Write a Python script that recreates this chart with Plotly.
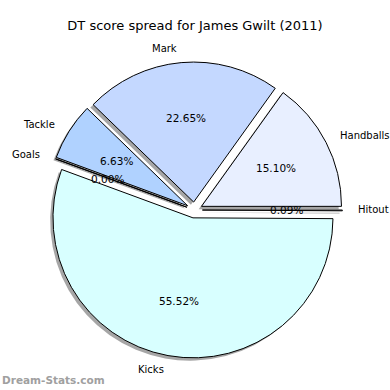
import numpy as np
import plotly.graph_objects as go

labels = ["Hitout", "Handballs", "Mark", "Tackle", "Goals", "Kicks"]
values = [0.09, 15.10, 22.65, 6.63, 0.00, 55.52]
colors = ["#d0d8e8", "#e8efff", "#c4d8ff", "#b0d2ff", "#c8d0e0", "#d8ffff"]
title = "DT score spread for James Gwilt (2011)"
watermark = "Dream-Stats.com"

W = H = 390
R = 140.0          # pie radius in px
PULL = 0.057
CX, CY = 194.4, 210.0  # unexploded centre in px (screen coords)
SH = 2.8           # shadow offset px

half = R * (1 + PULL)

def dom(cx, cy):
    return dict(x=[(cx - half) / W, (cx + half) / W],
                y=[1 - (cy + half) / H, 1 - (cy - half) / H])

fig = go.Figure()
common = dict(labels=labels, values=values, sort=False, direction="counterclockwise",
              rotation=90, pull=[PULL] * len(values), textinfo="none",
              hoverinfo="skip", showlegend=False)
fig.add_trace(go.Pie(**common, domain=dom(CX - SH, CY + SH),
                     marker=dict(colors=["rgba(77,77,77,0.5)"] * len(values),
                                 line=dict(width=0))))
fig.add_trace(go.Pie(**common, domain=dom(CX, CY),
                     marker=dict(colors=colors, line=dict(color="black", width=1))))

tot = float(np.sum(values))
start = 0.0
ann = []
for lab, v in zip(labels, values):
    frac = v / tot * 360.0
    mid = np.deg2rad(start + frac / 2)
    start += frac
    ex = CX + PULL * R * np.cos(mid)
    ey = CY - PULL * R * np.sin(mid)
    lx = ex + 1.1 * R * np.cos(mid)
    ly = ey - 1.1 * R * np.sin(mid)
    px = ex + 0.6 * R * np.cos(mid)
    py = ey - 0.6 * R * np.sin(mid)
    ann.append(dict(x=lx / W, y=1 - ly / H, xref="paper", yref="paper", text=lab,
                    showarrow=False, xanchor="left" if np.cos(mid) > 0 else "right",
                    yanchor="middle", font=dict(size=10, color="black")))
    ann.append(dict(x=px / W, y=1 - py / H, xref="paper", yref="paper", text=f"{v:.2f}%",
                    showarrow=False, xanchor="center", yanchor="middle",
                    font=dict(size=10.5, color="black")))

ann.append(dict(x=0, y=1 - 380 / H, xref="paper", yref="paper", text="<b>" + watermark + "</b>",
                showarrow=False, xanchor="left", yanchor="middle",
                font=dict(size=10.5, color="#a0a0a0")))

fig.update_layout(
    width=W, height=H, margin=dict(l=0, r=0, t=0, b=0),
    paper_bgcolor="white", plot_bgcolor="white",
    font=dict(family="DejaVu Sans", color="black"),
    title=dict(text=title, x=0.5, xanchor="center", y=1 - 25 / H, yanchor="middle",
               font=dict(size=13, color="black")),
    annotations=ann,
)
fig.write_html("out.html", config={"displayModeBar": False},
               post_script="document.body.style.margin='0';document.body.style.overflow='hidden';")
